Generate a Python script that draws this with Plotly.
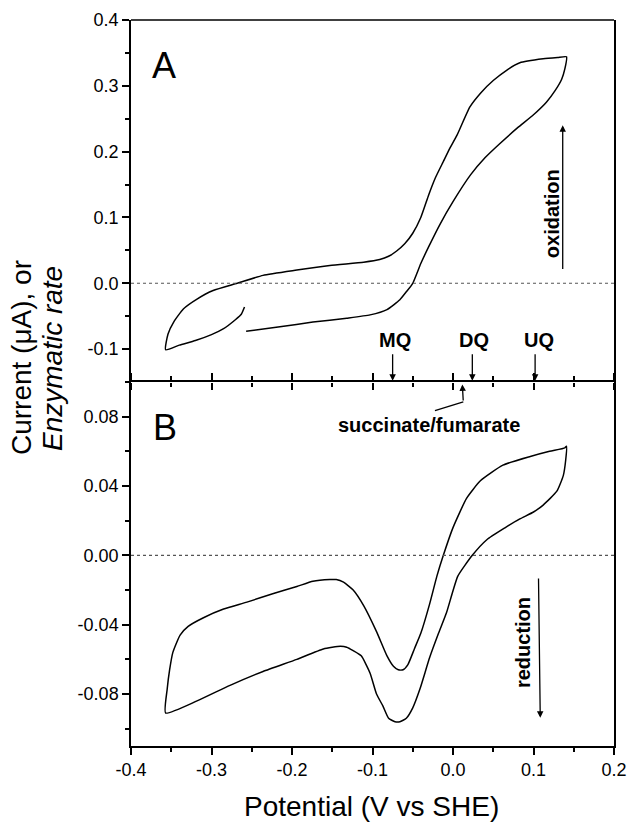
import plotly.graph_objects as go

# ---------------- Panel A (current, uA) ----------------
a_E = [-0.257, -0.215, -0.174, -0.132, -0.103, -0.082, -0.066, -0.058, -0.050, -0.040,
       -0.030, -0.016, 0.000, 0.022, 0.040, 0.058, 0.080, 0.100, 0.116, 0.127,
       0.135, 0.139, 0.141,
       0.130, 0.112, 0.083, 0.067, 0.050, 0.035, 0.021, 0.005, -0.004, -0.012,
       -0.022, -0.030, -0.040, -0.050, -0.060, -0.070, -0.080, -0.091, -0.111,
       -0.153, -0.194, -0.236, -0.268, -0.298, -0.318, -0.335, -0.347, -0.354, -0.357,
       -0.340, -0.320, -0.300, -0.285, -0.270, -0.263, -0.259]
a_I = [-0.073, -0.066, -0.059, -0.053, -0.048, -0.040, -0.025, -0.013, 0.000, 0.030,
       0.056, 0.090, 0.124, 0.165, 0.191, 0.212, 0.236, 0.256, 0.275, 0.293,
       0.310, 0.326, 0.344,
       0.343, 0.341, 0.335, 0.324, 0.308, 0.290, 0.268, 0.225, 0.205, 0.185,
       0.160, 0.135, 0.100, 0.076, 0.060, 0.049, 0.041, 0.036, 0.032,
       0.027, 0.020, 0.012, 0.000, -0.011, -0.024, -0.039, -0.059, -0.077, -0.101,
       -0.094, -0.087, -0.078, -0.069, -0.055, -0.047, -0.036]

# ---------------- Panel B (enzymatic rate) ----------------
b_E = [-0.357, -0.355, -0.352, -0.348, -0.339, -0.329, -0.310, -0.285, -0.256, -0.223,
       -0.194, -0.174, -0.153, -0.145, -0.136, -0.124, -0.111, -0.095, -0.082, -0.074,
       -0.068, -0.062, -0.056, -0.048, -0.040, -0.029, -0.020, -0.012, 0.000, 0.017,
       0.034, 0.062, 0.096, 0.120, 0.139, 0.141,
       0.140, 0.137, 0.129, 0.112, 0.100, 0.083, 0.065, 0.042, 0.024, 0.006,
       -0.008, -0.018, -0.029, -0.041, -0.050, -0.058, -0.066, -0.072, -0.080, -0.087,
       -0.095, -0.103, -0.114, -0.124, -0.132, -0.140, -0.161, -0.194, -0.236, -0.277,
       -0.318, -0.357]
b_I = [-0.091, -0.077, -0.066, -0.056, -0.046, -0.041, -0.036, -0.031, -0.027, -0.022,
       -0.018, -0.015, -0.014, -0.014, -0.0155, -0.020, -0.029, -0.044, -0.058, -0.064,
       -0.066, -0.066, -0.063, -0.054, -0.045, -0.028, -0.012, 0.000, 0.016, 0.033,
       0.043, 0.052, 0.057, 0.060, 0.062, 0.063,
       0.055, 0.046, 0.037, 0.029, 0.025, 0.021, 0.016, 0.009, 0.000, -0.012,
       -0.033, -0.045, -0.059, -0.077, -0.088, -0.094, -0.096, -0.096, -0.094, -0.087,
       -0.080, -0.068, -0.058, -0.055, -0.053, -0.0525, -0.054, -0.060, -0.067, -0.075,
       -0.084, -0.091]

# ---------------- Ticks ----------------
x_ticks = [-0.4, -0.3, -0.2, -0.1, 0.0, 0.1, 0.2]
x_ticktext = ["-0.4", "-0.3", "-0.2", "-0.1", "0.0", "0.1", "0.2"]
a_yticks = [-0.1, 0.0, 0.1, 0.2, 0.3, 0.4]
a_yticktext = ["-0.1", "0.0", "0.1", "0.2", "0.3", "0.4"]
b_yticks = [-0.08, -0.04, 0.0, 0.04, 0.08]
b_yticktext = ["-0.08", "-0.04", "0.00", "0.04", "0.08"]

# ---------------- Redox potentials ----------------
redox_labels = ["MQ", "DQ", "UQ"]
redox_E = [-0.075, 0.024, 0.102]
redox_label_E = [-0.072, 0.026, 0.107]
succ_E = 0.012

FONT = "Arial, 'Liberation Sans', sans-serif"

fig = go.Figure()
fig.add_trace(go.Scatter(x=a_E, y=a_I, xaxis="x2", yaxis="y2", mode="lines",
                         line=dict(color="black", width=1.5, shape="spline", smoothing=0.5),
                         showlegend=False, hoverinfo="skip"))
fig.add_trace(go.Scatter(x=b_E, y=b_I, xaxis="x", yaxis="y", mode="lines",
                         line=dict(color="black", width=1.5, shape="spline", smoothing=0.5),
                         showlegend=False, hoverinfo="skip"))

split = 364.0 / 726.0
minor_x = dict(dtick=0.05, tick0=0, ticks="outside", ticklen=4,
               tickwidth=1.5, tickcolor="black", showgrid=False)

fig.update_layout(
    width=629, height=822,
    margin=dict(l=131, r=15, t=20, b=76, autoexpand=False),
    paper_bgcolor="white", plot_bgcolor="white",
    font=dict(family=FONT, size=18, color="black"),
    xaxis=dict(domain=[0, 1], anchor="y", range=[-0.4, 0.2], tickmode="array",
               tickvals=x_ticks, ticktext=x_ticktext, ticks="outside", ticklen=7,
               tickwidth=1.5, tickcolor="black", showline=True, linewidth=1.5,
               linecolor="black", mirror="ticks", showgrid=False, zeroline=False,
               automargin=False, minor=minor_x),
    xaxis2=dict(domain=[0, 1], anchor="y2", range=[-0.4, 0.2], matches="x",
                tickmode="array", tickvals=x_ticks, showticklabels=False,
                ticks="outside", ticklen=7, tickwidth=1.5, tickcolor="black",
                showline=False, showgrid=False, zeroline=False, automargin=False,
                minor=minor_x),
    yaxis=dict(domain=[0, split], anchor="x", range=[-0.11, 0.10], tickmode="array",
               tickvals=b_yticks, ticktext=b_yticktext, ticks="outside", ticklen=7,
               tickwidth=1.5, tickcolor="black", showline=True, linewidth=1.5,
               linecolor="black", mirror=True, showgrid=False, zeroline=False,
               automargin=False,
               minor=dict(dtick=0.02, tick0=0, ticks="outside", ticklen=4,
                          tickwidth=1.5, tickcolor="black", showgrid=False)),
    yaxis2=dict(domain=[split, 1], anchor="x2", range=[-0.15, 0.4], tickmode="array",
                tickvals=a_yticks, ticktext=a_yticktext, ticks="outside", ticklen=7,
                tickwidth=1.5, tickcolor="black", showline=True, linewidth=1.5,
                linecolor="black", mirror=True, showgrid=False, zeroline=False,
                automargin=False,
                minor=dict(dtick=0.05, tick0=0, ticks="outside", ticklen=4,
                           tickwidth=1.5, tickcolor="black", showgrid=False)),
)

# top border of panel A
fig.add_shape(type="line", xref="x2 domain", yref="y2 domain", x0=0, x1=1, y0=1, y1=1,
              line=dict(color="black", width=1.5))
# dotted zero lines
fig.add_shape(type="line", xref="x domain", yref="y", x0=0, x1=1, y0=0, y1=0,
              line=dict(color="#555555", width=1.2, dash="dot"))
fig.add_shape(type="line", xref="x2 domain", yref="y2", x0=0, x1=1, y0=0, y1=0,
              line=dict(color="#555555", width=1.2, dash="dot"))

ann = []
# panel letters
ann.append(dict(text="A", xref="paper", yref="paper", x=0.0673, y=0.9373,
                showarrow=False, font=dict(size=36), xanchor="center", yanchor="middle"))
ann.append(dict(text="B", xref="paper", yref="paper", x=0.0714, y=0.4387,
                showarrow=False, font=dict(size=36), xanchor="center", yanchor="middle"))
# axis titles
ann.append(dict(text="Potential (V vs SHE)", xref="paper", yref="paper", x=0.497, y=-0.084,
                showarrow=False, font=dict(size=28), xanchor="center", yanchor="middle"))
ann.append(dict(text="Current (μA), or", xref="paper", yref="paper", x=-0.2277, y=0.5344,
                showarrow=False, font=dict(size=28), textangle=-90,
                xanchor="center", yanchor="middle"))
ann.append(dict(text="<i>Enzymatic rate</i>", xref="paper", yref="paper", x=-0.1636, y=0.5344,
                showarrow=False, font=dict(size=28), textangle=-90,
                xanchor="center", yanchor="middle"))

# oxidation / reduction
ann.append(dict(text="<b>oxidation</b>", xref="x2", yref="y2", x=0.1226, y=0.106,
                showarrow=False, font=dict(size=20), textangle=-90))
ann.append(dict(text="", xref="x2", yref="y2", x=0.1363, y=0.240, axref="x2", ayref="y2",
                ax=0.1363, ay=0.0193, showarrow=True, arrowhead=2, arrowsize=1,
                arrowwidth=1.3, arrowcolor="black", standoff=0))
ann.append(dict(text="<b>reduction</b>", xref="x", yref="y", x=0.087, y=-0.0506,
                showarrow=False, font=dict(size=20), textangle=-90))
ann.append(dict(text="", xref="x", yref="y", x=0.1084, y=-0.0937, axref="x", ayref="y",
                ax=0.1062, ay=-0.0125, showarrow=True, arrowhead=2, arrowsize=1,
                arrowwidth=1.3, arrowcolor="black", standoff=0))

# redox potential markers
for lab, e, le in zip(redox_labels, redox_E, redox_label_E):
    ann.append(dict(text="<b>%s</b>" % lab, xref="x2", yref="y2", x=le, y=-0.0857,
                    showarrow=False, font=dict(size=20)))
    ann.append(dict(text="", xref="x2", yref="y2", x=e, y=-0.148, axref="x2", ayref="y2",
                    ax=e, ay=-0.1055, showarrow=True, arrowhead=2, arrowsize=1,
                    arrowwidth=1.3, arrowcolor="black", standoff=0))

# succinate/fumarate
ann.append(dict(text="<b>succinate/fumarate</b>", xref="x", yref="y", x=-0.0292, y=0.0754,
                showarrow=False, font=dict(size=20)))
fig.add_shape(type="line", xref="x", yref="y", x0=-0.0224, y0=0.0835, x1=succ_E + 0.0008,
              y1=0.0885, line=dict(color="black", width=1.3))
ann.append(dict(text="", xref="x", yref="y", x=succ_E - 0.0004, y=0.0986, axref="x", ayref="y",
                ax=succ_E + 0.0008, ay=0.0885, showarrow=True, arrowhead=2, arrowsize=1,
                arrowwidth=1.3, arrowcolor="black", standoff=0))

fig.update_layout(annotations=ann)
fig.write_html("out.html", config={"displayModeBar": False},
               post_script="document.body.style.margin='0px';document.body.style.overflow='hidden';")
